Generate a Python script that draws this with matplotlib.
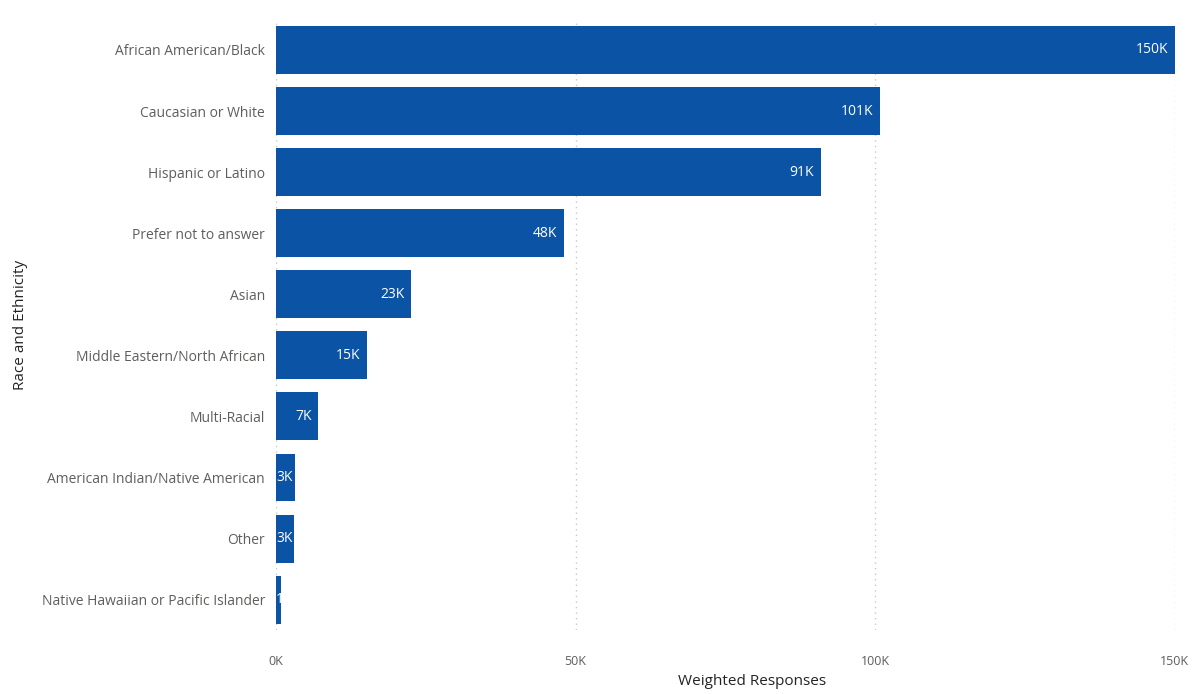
import matplotlib.pyplot as plt

categories = ["African American/Black", "Caucasian or White", "Hispanic or Latino",
              "Prefer not to answer", "Asian", "Middle Eastern/North African",
              "Multi-Racial", "American Indian/Native American", "Other",
              "Native Hawaiian or Pacific Islander"]
values = [150000, 100800, 90900, 48000, 22500, 15200, 7000, 3200, 3000, 800]
labels = ["150K", "101K", "91K", "48K", "23K", "15K", "7K", "3K", "3K", "1K"]
xticks = [0, 50000, 100000, 150000]
xticklabels = ["0K", "50K", "100K", "150K"]

plt.rcParams['font.family'] = ['Open Sans', 'DejaVu Sans']

fig = plt.figure(figsize=(11.96, 6.94), dpi=100)
ax = fig.add_axes([0.2308, 0.092, 0.7516, 0.88])

y = list(range(len(categories)))
bars = ax.barh(y, values, height=0.785, color="#0B53A5", zorder=3)

for bar, val, lab in zip(bars, values, labels):
    yc = bar.get_y() + bar.get_height() / 2
    if val > 6000:
        t = ax.text(val - 1100, yc, lab, ha="right", va="center",
                    color="white", fontsize=10, zorder=4)
    else:
        t = ax.text(0, yc, lab, ha="left", va="center",
                    color="white", fontsize=10, zorder=4)
        t.set_clip_path(bar)

ax.set_ylim(len(categories) - 0.5, -0.5)
ax.set_xlim(0, 150000)
ax.set_yticks(y)
ax.set_yticklabels(categories, fontsize=10, color="#605E5C")
ax.set_xticks(xticks)
ax.set_xticklabels(xticklabels, fontsize=9, color="#605E5C")
ax.tick_params(axis="both", length=0)
ax.tick_params(axis="x", pad=18)
ax.tick_params(axis="y", pad=8)

ax.grid(axis="x", linestyle=(0, (1, 3)), color="#C8C8C8", linewidth=1, zorder=0)
for s in ax.spines.values():
    s.set_visible(False)

ax.set_xlabel("Weighted Responses", fontsize=11, color="#252423", fontweight="medium")
ax.xaxis.set_label_coords(0.53, -0.071)
ax.set_ylabel("Race and Ethnicity", fontsize=11, color="#252423", fontweight="medium")
ax.yaxis.set_label_coords(-0.276, 0.5)

fig.savefig("out.png", dpi=100)
